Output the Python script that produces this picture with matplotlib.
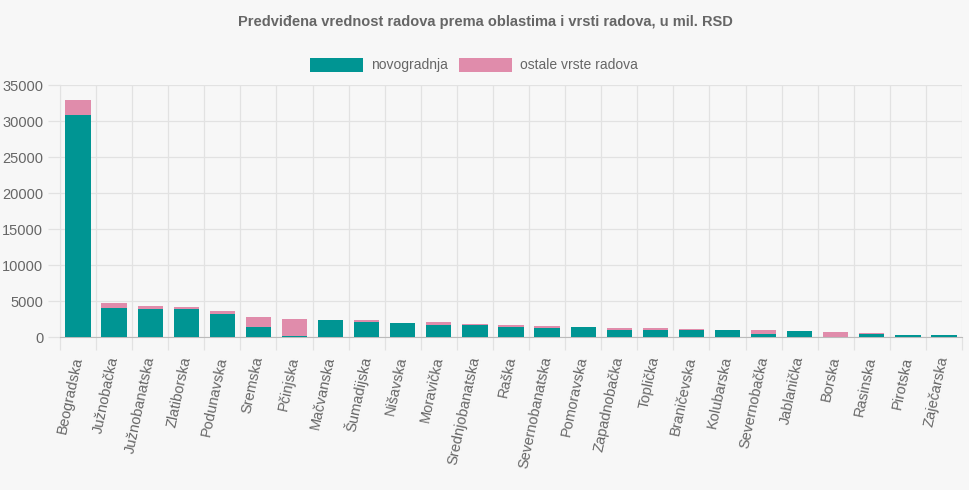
import matplotlib.pyplot as plt
import numpy as np

regions = ['Beogradska', 'Južnobačka', 'Južnobanatska', 'Zlatiborska', 'Podunavska',
           'Sremska', 'Pčinjska', 'Mačvanska', 'Šumadijska', 'Nišavska', 'Moravička',
           'Srednjobanatska', 'Raška', 'Severnobanatska', 'Pomoravska', 'Zapadnobačka',
           'Toplička', 'Braničevska', 'Kolubarska', 'Severnobačka', 'Jablanička',
           'Borska', 'Rasinska', 'Pirotska', 'Zaječarska']
novogradnja = [30900, 4100, 4000, 4000, 3300, 1430, 230, 2370, 2140, 2000, 1670,
               1670, 1470, 1330, 1390, 1010, 1060, 1000, 970, 460, 830,
               60, 500, 320, 280]
ostale = [2100, 700, 400, 150, 350, 1330, 2270, 0, 230, 50, 470,
          190, 280, 240, 60, 240, 190, 100, 0, 550, 20,
          720, 140, 40, 10]
yticks = [0, 5000, 10000, 15000, 20000, 25000, 30000, 35000]

plt.rcParams['font.family'] = ['Liberation Sans', 'DejaVu Sans']
bg = '#f7f7f7'
txt = '#666666'
grid = '#e2e2e2'

fig = plt.figure(figsize=(9.7, 4.9), dpi=100, facecolor=bg)
ax = fig.add_axes([60 / 970, 1 - 337.3 / 490, 902 / 970, (337.3 - 85.5) / 490])
ax.set_facecolor(bg)

x = np.arange(len(regions))
ax.bar(x, novogradnja, width=0.7, color='#009593', label='novogradnja', zorder=3)
ax.bar(x, ostale, width=0.7, bottom=novogradnja, color='#e08cab',
       label='ostale vrste radova', zorder=3)

ax.set_xlim(-0.5, len(regions) - 0.5)
ax.set_ylim(0, 35000)
ax.set_yticks(yticks)
ax.set_yticklabels([str(v) for v in yticks], fontsize=10.5, color=txt)

# category boundary gridlines (Chart.js offset grid)
for b in np.arange(-0.5, len(regions), 1.0):
    ax.axvline(b, color=grid, lw=0.9, zorder=1)
ax.yaxis.grid(True, color=grid, lw=0.9, zorder=1)
ax.set_xticks(x)
ax.set_xticklabels(regions, rotation=78, ha='right', va='center',
                   rotation_mode='anchor', fontsize=10.5, color=txt)
ax.tick_params(axis='x', length=0, pad=14)
ax.tick_params(axis='y', length=9, color=grid, width=0.9, pad=3)
# boundary ticks below axis
ax.set_xticks(np.arange(-0.5, len(regions), 1.0), minor=True)
ax.tick_params(axis='x', which='minor', length=9, color=grid, width=0.9)

for s in ['top', 'right']:
    ax.spines[s].set_visible(False)
ax.spines['left'].set_color(grid)
ax.spines['bottom'].set_color('#bbbbbb')

fig.text(0.5, 1 - 22 / 490, 'Predviđena vrednost radova prema oblastima i vrsti radova, u mil. RSD',
         ha='center', va='center', fontsize=10.5, fontweight='bold', color=txt)
fig.legend(loc='center', bbox_to_anchor=(474 / 970, 1 - 65 / 490), ncol=2, frameon=False,
           fontsize=10, labelcolor=txt, handlelength=3.8, handleheight=1.2,
           handletextpad=0.6, columnspacing=0.8)

fig.savefig('out.png', dpi=100, facecolor=bg)
